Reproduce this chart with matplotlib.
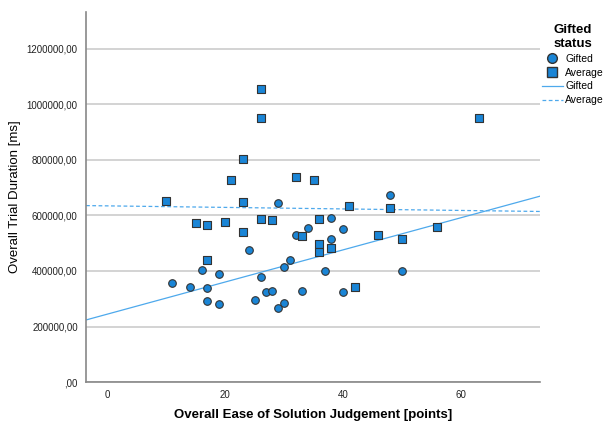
import numpy as np
import matplotlib
matplotlib.use("Agg")
from matplotlib import pyplot as plt
from matplotlib.lines import Line2D
from matplotlib.ticker import FuncFormatter

# Gifted group (circles)
gifted_x = [11, 14, 16, 17, 17, 19, 19, 24, 25, 26, 27, 28, 29, 29, 30, 30, 31,
            32, 33, 34, 37, 38, 38, 40, 40, 48, 50]
gifted_y = [355000, 344000, 404000, 339000, 292000, 390000, 280000, 475000, 296000,
            378000, 325000, 327000, 645000, 266000, 416000, 283000, 440000, 531000,
            328000, 555000, 401000, 591000, 515000, 553000, 325000, 675000, 400000]

# Average group (squares)
average_x = [10, 15, 17, 17, 20, 21, 23, 23, 23, 26, 26, 26, 28, 32, 33, 35, 36, 36,
             36, 38, 41, 42, 46, 48, 50, 56, 63]
average_y = [652000, 573000, 564000, 439000, 578000, 729000, 803000, 647000, 539000,
             1057000, 952000, 586000, 585000, 740000, 526000, 729000, 588000, 499000,
             470000, 483000, 633000, 342000, 528000, 627000, 514000, 560000, 951000]

x_ticks = [0, 20, 40, 60]
y_ticks = [0, 200000, 400000, 600000, 800000, 1000000, 1200000]

plt.rcParams['font.family'] = ['Liberation Sans', 'DejaVu Sans']

marker_col = '#1a85d6'
line_col = '#4ea9ec'

fig = plt.figure(figsize=(6.06, 4.25), dpi=100)
ax = fig.add_axes([0.142, 0.101, 0.749, 0.871])

xmin, xmax = -3.6, 73.4
ax.set_xlim(xmin, xmax)
ax.set_ylim(0, 1333000)

ax.grid(axis='y', color='#cccccc', linewidth=1.2)
ax.set_axisbelow(True)

ax.scatter(gifted_x, gifted_y, s=30, marker='o', color=marker_col,
           edgecolors='#333333', linewidths=0.8, zorder=3)
ax.scatter(average_x, average_y, s=30, marker='s', color=marker_col,
           edgecolors='#333333', linewidths=0.8, zorder=3)

# linear fits per group
xs = np.array([xmin, xmax])
kg = np.polyfit(gifted_x, gifted_y, 1)
ka = np.polyfit(average_x, average_y, 1)
ax.plot(xs, np.polyval(kg, xs), color=line_col, linewidth=0.9, zorder=2)
ax.plot(xs, np.polyval(ka, xs), color=line_col, linewidth=0.9, linestyle=(0, (3, 2)), zorder=2)

ax.set_xticks(x_ticks)
ax.set_yticks(y_ticks)
def yfmt(v, pos):
    s = ("%.2f" % v).replace('.', ',')
    return s[1:] if s.startswith('0') else s
ax.yaxis.set_major_formatter(FuncFormatter(yfmt))
ax.tick_params(axis='both', length=0, labelsize=7, colors='#222222')
ax.tick_params(axis='y', pad=6)
ax.tick_params(axis='x', pad=6)

for s in ['top', 'right']:
    ax.spines[s].set_visible(False)
for s in ['left', 'bottom']:
    ax.spines[s].set_color('#888888')
    ax.spines[s].set_linewidth(1.2)

ax.set_xlabel('Overall Ease of Solution Judgement [points]', fontsize=9.5,
              fontweight='bold', labelpad=6)
ax.set_ylabel('Overall Trial Duration [ms]', fontsize=9.5, labelpad=4)

handles = [
    Line2D([], [], marker='o', linestyle='none', markerfacecolor=marker_col,
           markeredgecolor='#333333', markersize=7),
    Line2D([], [], marker='s', linestyle='none', markerfacecolor=marker_col,
           markeredgecolor='#333333', markersize=7),
    Line2D([], [], color=line_col, linewidth=0.9),
    Line2D([], [], color=line_col, linewidth=0.9, linestyle=(0, (3, 2))),
]
leg = fig.legend(handles, ['Gifted', 'Average', 'Gifted', 'Average'],
                 title='Gifted\nstatus', loc='upper left',
                 bbox_to_anchor=(0.894, 0.944), frameon=False, fontsize=7.5,
                 handlelength=2.0, handletextpad=0.25, labelspacing=0.38,
                 borderaxespad=0, borderpad=0)
leg.get_title().set_fontweight('bold')
leg.get_title().set_fontsize(9.5)

fig.savefig('out.png', dpi=100)
